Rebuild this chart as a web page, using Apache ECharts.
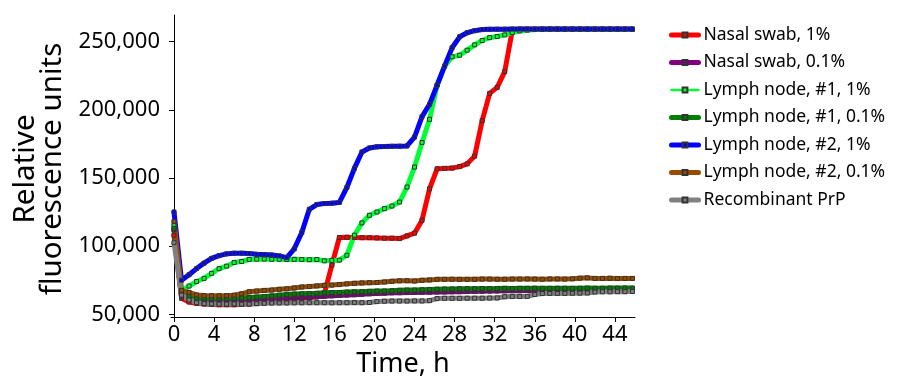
<!DOCTYPE html>
<html><head><meta charset="utf-8">
<script src="https://cdn.jsdelivr.net/npm/echarts@6/dist/echarts.min.js"></script>
<style>html,body{margin:0;padding:0;background:#fff}#c{width:900px;height:383px}</style>
</head><body><div id="c"></div>
<script>
const times = [
  0, 0.75, 1.5, 2.25, 3, 3.75, 4.5, 5.25, 6, 6.75,
  7.5, 8.25, 9, 9.75, 10.5, 11.25, 12, 12.75, 13.5, 14.25,
  15, 15.75, 16.5, 17.25, 18, 18.75, 19.5, 20.25, 21, 21.75,
  22.5, 23.25, 24, 24.75, 25.5, 26.25, 27, 27.75, 28.5, 29.25,
  30, 30.75, 31.5, 32.25, 33, 33.75, 34.5, 35.25, 36, 36.75,
  37.5, 38.25, 39, 39.75, 40.5, 41.25, 42, 42.75, 43.5, 44.25,
  45, 45.75
];
const nasalSwab1 = [
  108000, 61700, 59000, 58000, 57500, 57200, 57000, 57000, 57000, 57200,
  57500, 58000, 58500, 59000, 59500, 60500, 61300, 61800, 62200, 62800,
  65000, 86000, 106300, 106500, 106300, 106200, 106200, 106000, 105800, 105800,
  105500, 107500, 109500, 119000, 142000, 156700, 157000, 157200, 158300, 160300,
  166000, 192000, 212000, 216400, 228000, 258000, 259000, 259100, 259100, 259100,
  259100, 259100, 259100, 259100, 259100, 259100, 259100, 259100, 259100, 259100,
  259100, 259100
];
const nasalSwab01 = [
  112000, 63000, 61500, 60500, 60000, 59800, 59800, 59800, 59900, 60000,
  60300, 60600, 61000, 61300, 61500, 61700, 62000, 62300, 62600, 62900,
  63200, 63500, 63800, 64100, 64400, 64700, 65000, 65300, 65500, 65700,
  65800, 65900, 66000, 66100, 66200, 66300, 66400, 66500, 66600, 66700,
  66800, 66900, 67000, 67100, 67200, 67300, 67300, 67400, 67400, 67500,
  67500, 67600, 67600, 67700, 67700, 67800, 67800, 67900, 67900, 68000,
  68000, 68000
];
const lymph1_1 = [
  115000, 67500, 70700, 74000, 76300, 80000, 83500, 85300, 88000, 88700,
  90200, 90400, 90500, 90300, 90400, 90200, 90300, 90200, 90000, 90200,
  89200, 89500, 89700, 93300, 108000, 117000, 122600, 125000, 127500, 129400,
  132300, 143300, 158000, 176000, 193000, 218000, 232000, 238800, 240000, 243700,
  247600, 250800, 252900, 253700, 254900, 256600, 257800, 258400, 258800, 259000,
  259100, 259100, 259100, 259100, 259100, 259100, 259100, 259100, 259100, 259100,
  259100, 259100
];
const lymph1_01 = [
  113000, 64500, 63000, 62000, 61800, 61700, 61800, 61800, 61900, 62000,
  62300, 62600, 63000, 63500, 64000, 64500, 64800, 65000, 65200, 65400,
  65800, 65900, 66000, 66300, 66500, 66600, 66800, 67000, 67100, 67300,
  67600, 67800, 67800, 68000, 68200, 68400, 68500, 68600, 68700, 68800,
  68800, 68900, 68800, 68900, 69000, 68900, 69000, 69000, 69100, 69000,
  69000, 69100, 69100, 69000, 69100, 69200, 69100, 69100, 69200, 69200,
  69300, 69200
];
const lymph2_1 = [
  125000, 75000, 79000, 83500, 87500, 91000, 93000, 94300, 94800, 94800,
  94500, 94000, 93800, 93500, 92800, 91500, 98000, 110000, 127000, 130500,
  131200, 131500, 132000, 143000, 157000, 169000, 172000, 172800, 173000, 173200,
  173300, 173500, 180000, 195000, 204000, 218000, 232000, 245500, 253500, 256500,
  258000, 258800, 259000, 259100, 259100, 259200, 259200, 259200, 259200, 259200,
  259200, 259200, 259200, 259200, 259200, 259200, 259200, 259200, 259200, 259200,
  259200, 259200
];
const lymph2_01 = [
  118000, 67500, 66000, 64200, 63700, 63600, 63600, 63700, 64000, 65000,
  66500, 67000, 67500, 67800, 68300, 68700, 69300, 70000, 70300, 70800,
  71200, 71400, 71800, 72300, 72700, 73000, 73200, 73300, 73700, 74200,
  74500, 74600, 74400, 74900, 75200, 75600, 75600, 75700, 75600, 75600,
  75600, 75800, 75800, 75700, 75700, 75800, 75800, 75900, 75800, 75700,
  75900, 75900, 75800, 76000, 76500, 76700, 76300, 76300, 76400, 76200,
  76300, 76300
];
const recombinant = [
  102500, 64000, 60500, 58500, 57800, 57600, 57500, 57500, 57600, 57400,
  57500, 57800, 58000, 58200, 58300, 58300, 58400, 58400, 58500, 58500,
  58500, 58400, 58500, 58500, 58600, 58500, 58600, 59300, 59600, 59700,
  59700, 59700, 59800, 59800, 60000, 61500, 61700, 61700, 61700, 61800,
  61800, 61800, 61900, 62000, 62900, 63000, 63000, 63100, 64500, 65200,
  65300, 65300, 65300, 65400, 65500, 65600, 66300, 66500, 66500, 66600,
  66600, 66700
];
const seriesNames = ['Nasal swab, 1%', 'Nasal swab, 0.1%', 'Lymph node, #1, 1%', 'Lymph node, #1, 0.1%', 'Lymph node, #2, 1%', 'Lymph node, #2, 0.1%', 'Recombinant PrP'];
const seriesValues = [nasalSwab1, nasalSwab01, lymph1_1, lymph1_01, lymph2_1, lymph2_01, recombinant];
const seriesColors = ['#ff0000', '#800080', '#00ff33', '#008000', '#0000ff', '#994c00', '#808080'];
const legendLineWidths = [5, 5, 2.5, 5, 5, 5, 5];
const xTicks = [0, 4, 8, 12, 16, 20, 24, 28, 32, 36, 40, 44];
const yTicks = [50000, 100000, 150000, 200000, 250000];

const F = 'Noto Sans';
const chart = echarts.init(document.getElementById('c'), null, {renderer: 'canvas'});
const option = {
  animation: false,
  grid: {left: 171, right: 265, top: 15, bottom: 66},
  legend: {
    orient: 'vertical', left: 664, top: 21, itemWidth: 27, itemHeight: 6, itemGap: 9.5,
    textStyle: {fontFamily: F, fontSize: 17.5, color: '#000'},
    data: seriesNames.map((n, k) => ({name: n, lineStyle: {width: legendLineWidths[k], color: seriesColors[k]}}))
  },
  xAxis: {
    type: 'value', min: -0.3, max: 46,
    name: 'Time, h', nameLocation: 'middle', nameGap: 31,
    nameTextStyle: {fontFamily: F, fontSize: 27, color: '#000'},
    axisLine: {lineStyle: {color: '#000', width: 1}},
    axisTick: {customValues: xTicks, length: 5, lineStyle: {color: '#000'}},
    axisLabel: {customValues: xTicks, fontFamily: F, fontSize: 22, color: '#000', margin: 7},
    splitLine: {show: false}
  },
  yAxis: {
    type: 'value', min: 48000, max: 269500,
    name: 'Relative\nfluorescence units', nameLocation: 'middle', nameGap: 104,
    nameTextStyle: {fontFamily: F, fontSize: 29.5, color: '#000', lineHeight: 27, padding: [0, 6, 0, 0]},
    axisLine: {show: true, lineStyle: {color: '#000', width: 1}},
    axisTick: {show: true, customValues: yTicks, length: 5, lineStyle: {color: '#000'}},
    axisLabel: {customValues: yTicks, fontFamily: F, fontSize: 22, color: '#000', margin: 11,
      formatter: v => v.toLocaleString('en-US')},
    splitLine: {show: false}
  },
  series: seriesNames.map((n, k) => ({
    name: n, type: 'line',
    data: times.map((t, i) => [t, seriesValues[k][i]]),
    symbol: 'rect', symbolSize: 4, showSymbol: true,
    lineStyle: {width: 5, color: seriesColors[k], cap: 'round', join: 'round'},
    itemStyle: {color: seriesColors[k], borderColor: '#333', borderWidth: 1},
    emphasis: {disabled: true}
  }))
};
chart.setOption(option);
</script></body></html>
